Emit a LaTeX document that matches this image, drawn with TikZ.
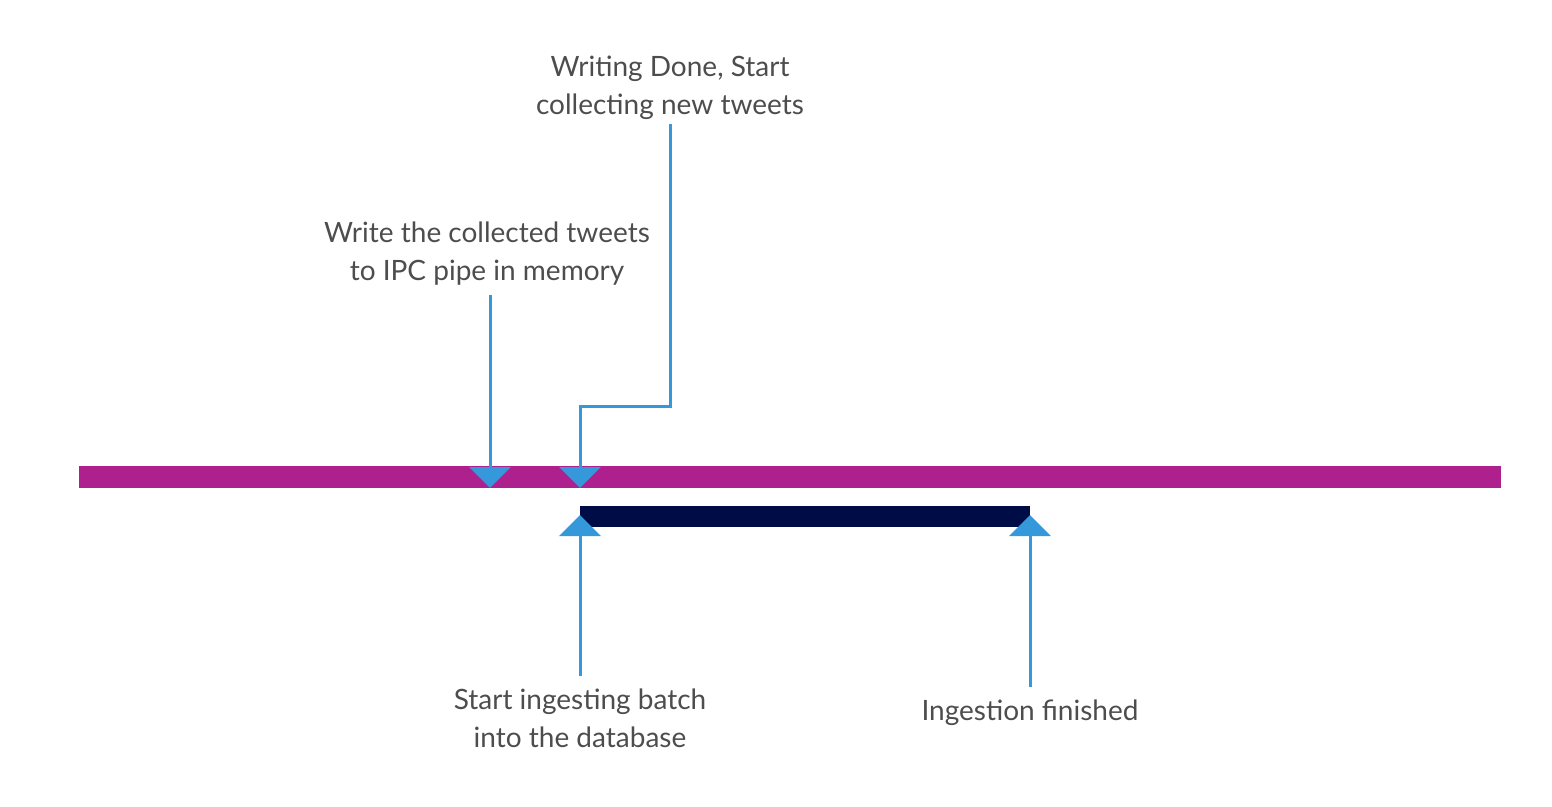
\documentclass[tikz,border=0pt]{standalone}
\usepackage{fontspec}
\setmainfont{Lato}
\usetikzlibrary{arrows.meta}
\definecolor{pipecol}{RGB}{173,32,141}
\definecolor{batchcol}{RGB}{0,12,69}
\definecolor{markcol}{RGB}{52,152,219}
\definecolor{txtcol}{RGB}{77,77,77}
\begin{document}
\begin{tikzpicture}[x=1pt,y=-1pt,
  label/.style={text=txtcol,align=center,font=\fontsize{28}{38}\selectfont,inner sep=0pt,outer sep=9pt},
  marker/.style={draw=markcol,line width=3pt,-{Triangle[width=41pt,length=21pt]}}]
\useasboundingbox (0,0) rectangle (1552,806);
% the two bars
\fill[pipecol] (79,466) rectangle (1501,488);
\fill[batchcol] (580,506) rectangle (1030,527);
% texts
\node[label,outer sep=4pt] (done) at (670,88) {Writing Done, Start\\collecting new tweets};
\node[label] (write) at (487,254) {Write the collected tweets\\to IPC pipe in memory};
\node[label,outer sep=13pt] (start) at (580,718) {Start ingesting batch\\into the database};
\node[label,outer sep=13pt] (finish) at (1030,713) {Ingestion finished};
% arrow ends
\coordinate (wtip) at (490,488);
\coordinate (bend) at (580,406);
\coordinate (dtip) at (580,488);
\coordinate (stip) at (580,515);
\coordinate (ftip) at (1030,515);
% arrows
\draw[marker] (wtip |- write.south) -- (wtip);
\draw[marker] (done.south) |- (bend) -- (dtip);
\draw[marker] (start.north) -- (stip);
\draw[marker] (finish.north) -- (ftip);
\end{tikzpicture}
\end{document}
